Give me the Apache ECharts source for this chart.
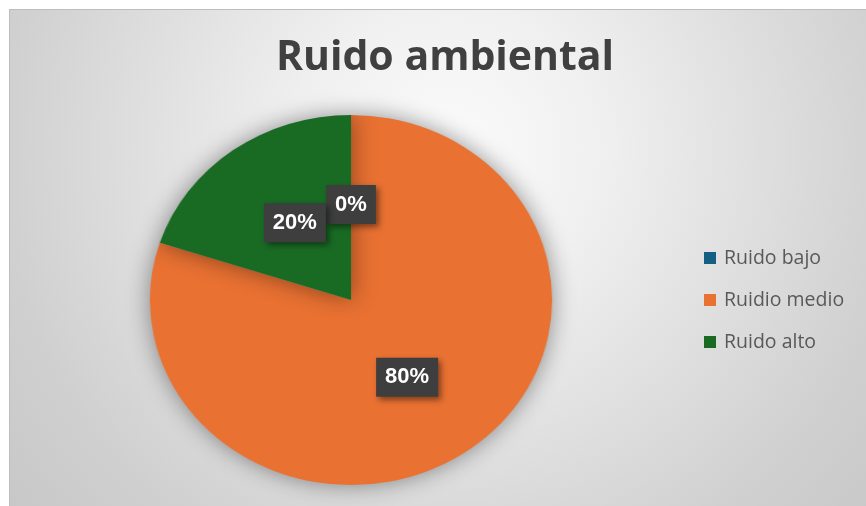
<!DOCTYPE html>
<html>
<head>
<meta charset="utf-8">
<script src="https://cdn.jsdelivr.net/npm/echarts@6/dist/echarts.min.js"></script>
<style>
  html, body { margin: 0; padding: 0; background: #ffffff; }
  #wrap { position: relative; width: 866px; height: 506px; overflow: hidden; background: #ffffff; }
  #bg { position: absolute; left: 9px; top: 9px; width: 870px; height: 510px;
        border-top: 1px solid #bdbdbd; border-left: 1px solid #bdbdbd;
        background: radial-gradient(circle 620px at 440px 140px, #fbfbfb 0px, #f0f0f0 150px, #e0e0e0 300px, #d0d0d0 450px, #c4c4c4 620px); }
  #pie, #top { position: absolute; left: 0; top: 0; width: 866px; height: 506px; }
  #pie { transform: scaleX(1.087); transform-origin: 351px 300px; }
</style>
</head>
<body>
<div id="wrap">
  <div id="bg"></div>
  <div id="pie"></div>
  <div id="top"></div>
</div>
<script>
const title = 'Ruido ambiental';
const categories = ['Ruido bajo', 'Ruidio medio', 'Ruido alto'];
const values = [0, 80, 20];
const colors = ['#156082', '#E97132', '#196B24'];

const center = [351, 300];
const radius = 185;

// Layer with the pie sectors (stretched horizontally like the reference)
const pieChart = echarts.init(document.getElementById('pie'), null, { renderer: 'canvas' });
pieChart.setOption({
  animation: false,
  backgroundColor: 'transparent',
  series: [{
    type: 'pie',
    center: center,
    radius: radius,
    startAngle: 90,
    clockwise: true,
    label: { show: false },
    labelLine: { show: false },
    itemStyle: { shadowBlur: 22, shadowColor: 'rgba(0,0,0,0.42)', borderWidth: 0 },
    data: categories.map((c, i) => ({ name: c, value: values[i], itemStyle: { color: colors[i] } }))
  }]
});

// Layer with title, legend and labels
const topChart = echarts.init(document.getElementById('top'), null, { renderer: 'canvas' });
topChart.setOption({
  animation: false,
  backgroundColor: 'transparent',
  title: {
    text: title,
    left: 445,
    textAlign: 'center',
    top: 37,
    padding: 0,
    textStyle: { fontFamily: 'Open Sans', fontWeight: 'bold', fontSize: 41, lineHeight: 42, color: '#404040' }
  },
  legend: {
    orient: 'vertical',
    left: 704,
    top: 248,
    padding: 0,
    itemWidth: 12,
    itemHeight: 12,
    itemGap: 22,
    icon: 'rect',
    textStyle: { fontFamily: 'Open Sans', fontSize: 19.5, lineHeight: 20, color: '#595959', padding: [0, 0, 0, 3] },
    data: categories.map((c, i) => ({ name: c, itemStyle: { color: colors[i], opacity: 1 } }))
  },
  series: [{
    type: 'pie',
    center: center,
    radius: radius,
    startAngle: 90,
    clockwise: true,
    silent: true,
    avoidLabelOverlap: false,
    labelLayout: { hideOverlap: false },
    itemStyle: { color: 'rgba(0,0,0,0)' },
    labelLine: { show: false },
    label: {
      show: true,
      position: 'inside',
      formatter: p => Math.round(p.percent) + '%',
      fontFamily: 'Liberation Sans',
      fontWeight: 'bold',
      fontSize: 22,
      color: '#ffffff',
      backgroundColor: '#3e3e3e',
      padding: [9, 9, 8, 9],
      shadowColor: 'rgba(0,0,0,0.45)',
      shadowBlur: 6,
      shadowOffsetX: 3,
      shadowOffsetY: 3
    },
    data: categories.map((c, i) => ({ name: c, value: values[i] }))
  }]
});
</script>
</body>
</html>
